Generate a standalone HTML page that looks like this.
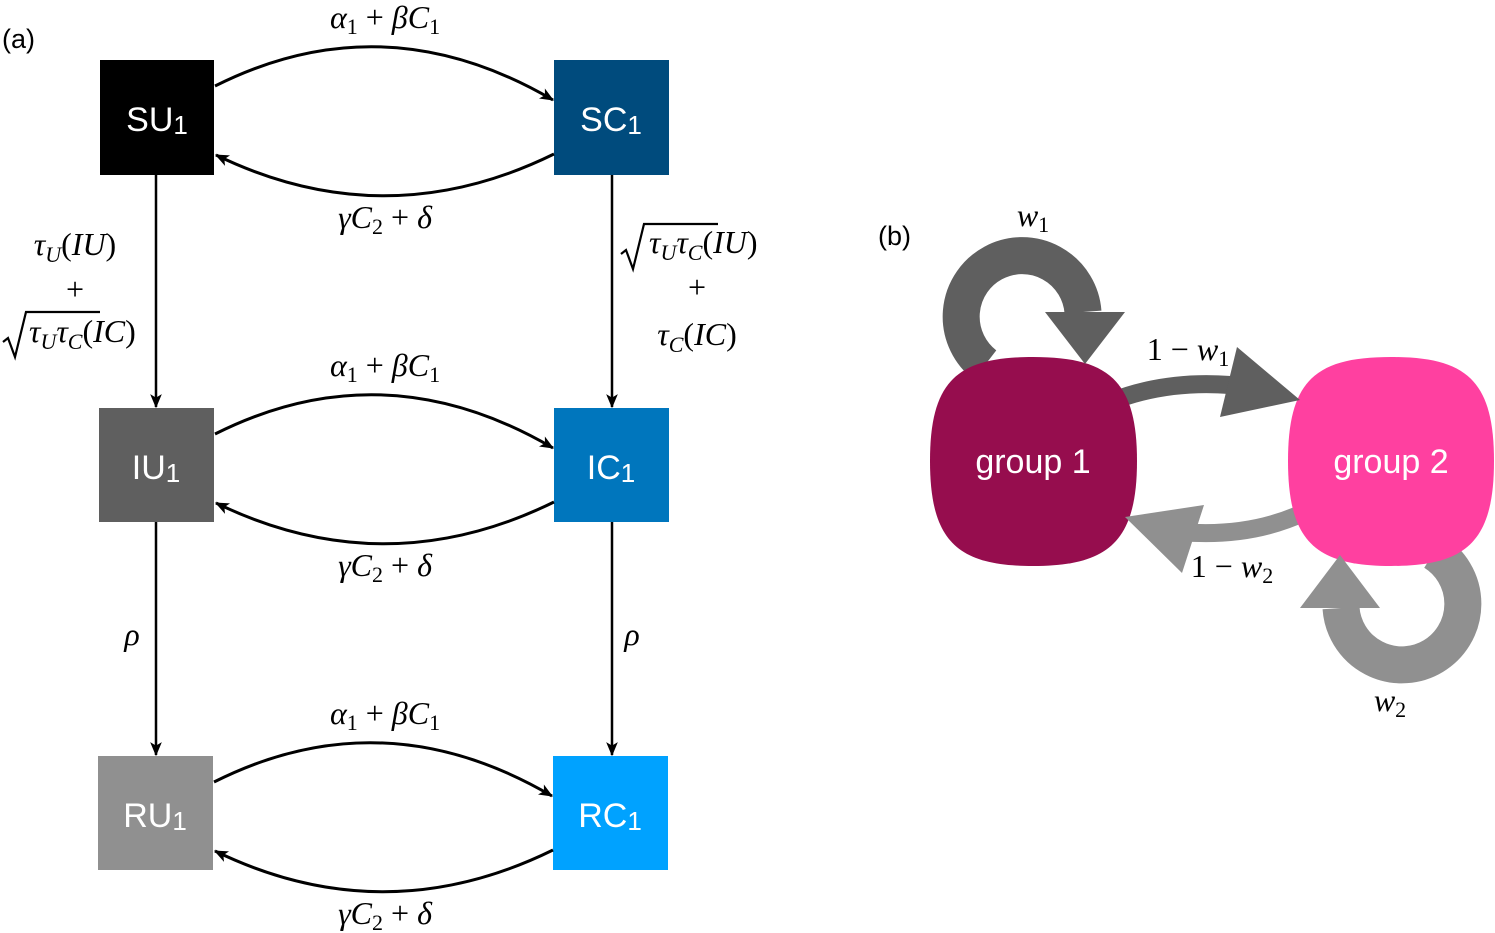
<!DOCTYPE html>
<html><head><meta charset="utf-8"><style>
html,body{margin:0;padding:0;background:#fff;}
svg{display:block;}
.m{font-family:"Liberation Serif",serif;font-size:32px;font-style:italic;fill:#000;}
.n{font-style:normal;}
.b{font-family:"Liberation Sans",sans-serif;font-size:34px;fill:#fff;}
.l{font-family:"Liberation Sans",sans-serif;font-size:27px;fill:#000;}
</style></head><body>
<svg width="1495" height="933" viewBox="0 0 1495 933" xmlns="http://www.w3.org/2000/svg">
<defs>
<marker id="a" viewBox="0 0 12 10" refX="11" refY="5" markerWidth="14" markerHeight="12" orient="auto-start-reverse" markerUnits="userSpaceOnUse">
<path d="M0,0 L12,5 L0,10 L3,5 Z" fill="#000"/></marker>
</defs>
<text x="2" y="48" class="l">(a)</text>
<text x="878" y="245" class="l">(b)</text>

<rect x="100" y="60" width="114" height="115" fill="#000"/>
<rect x="554" y="60" width="115" height="115" fill="#004b7d"/>
<rect x="99" y="408" width="115" height="114" fill="#5f5f5f"/>
<rect x="554" y="408" width="115" height="114" fill="#0076bd"/>
<rect x="98" y="756" width="115" height="114" fill="#909090"/>
<rect x="553" y="756" width="115" height="114" fill="#00a2ff"/>
<text x="157" y="131" class="b" text-anchor="middle">SU<tspan font-size="26" dy="3">1</tspan></text>
<text x="611" y="131" class="b" text-anchor="middle">SC<tspan font-size="26" dy="3">1</tspan></text>
<text x="156" y="479" class="b" text-anchor="middle">IU<tspan font-size="26" dy="3">1</tspan></text>
<text x="611" y="479" class="b" text-anchor="middle">IC<tspan font-size="26" dy="3">1</tspan></text>
<text x="155" y="827" class="b" text-anchor="middle">RU<tspan font-size="26" dy="3">1</tspan></text>
<text x="610" y="827" class="b" text-anchor="middle">RC<tspan font-size="26" dy="3">1</tspan></text>

<g fill="none" stroke="#000" stroke-width="3">
<path d="M215,86 Q384,1 553,100" marker-end="url(#a)"/>
<path d="M554,154 Q385,237 216,155" marker-end="url(#a)"/>
<path d="M215,434 Q384,349 553,448" marker-end="url(#a)"/>
<path d="M554,502 Q385,585 216,503" marker-end="url(#a)"/>
<path d="M214,782 Q383,697 552,796" marker-end="url(#a)"/>
<path d="M553,850 Q384,933 215,851" marker-end="url(#a)"/>
<path d="M156,175 L156,407" stroke-width="2.5" marker-end="url(#a)"/>
<path d="M612,175 L612,407" stroke-width="2.5" marker-end="url(#a)"/>
<path d="M156,522 L156,755" stroke-width="2.5" marker-end="url(#a)"/>
<path d="M612,522 L612,755" stroke-width="2.5" marker-end="url(#a)"/>
</g>

<g class="m" text-anchor="middle">
<text x="385" y="28">α<tspan class="n" font-size="22" dy="6">1</tspan><tspan class="n" dy="-6"> + </tspan>βC<tspan class="n" font-size="22" dy="6">1</tspan></text>
<text x="385" y="228">γC<tspan class="n" font-size="22" dy="6">2</tspan><tspan class="n" dy="-6"> + </tspan>δ</text>
<text x="385" y="376">α<tspan class="n" font-size="22" dy="6">1</tspan><tspan class="n" dy="-6"> + </tspan>βC<tspan class="n" font-size="22" dy="6">1</tspan></text>
<text x="385" y="576">γC<tspan class="n" font-size="22" dy="6">2</tspan><tspan class="n" dy="-6"> + </tspan>δ</text>
<text x="385" y="724">α<tspan class="n" font-size="22" dy="6">1</tspan><tspan class="n" dy="-6"> + </tspan>βC<tspan class="n" font-size="22" dy="6">1</tspan></text>
<text x="385" y="924">γC<tspan class="n" font-size="22" dy="6">2</tspan><tspan class="n" dy="-6"> + </tspan>δ</text>
<text x="132" y="645">ρ</text>
<text x="632" y="645">ρ</text>
<text x="75" y="255">τ<tspan font-size="22" dy="7">U</tspan><tspan class="n" dy="-7">(</tspan>IU<tspan class="n">)</tspan></text>
<text x="75" y="300" class="n">+</text>
<text x="697" y="298" class="n">+</text>
<text x="697" y="345">τ<tspan font-size="22" dy="7">C</tspan><tspan class="n" dy="-7">(</tspan>IC<tspan class="n">)</tspan></text>
</g>
<g class="m">
<text x="29" y="342">τ<tspan font-size="22" dy="7">U</tspan><tspan dy="-7">τ</tspan><tspan font-size="22" dy="7">C</tspan><tspan class="n" dy="-7">(</tspan>IC<tspan class="n">)</tspan></text>
<text x="649" y="253">τ<tspan font-size="22" dy="7">U</tspan><tspan dy="-7">τ</tspan><tspan font-size="22" dy="7">C</tspan><tspan class="n" dy="-7">(</tspan>IU<tspan class="n">)</tspan></text>
</g>
<g fill="none" stroke="#000" stroke-width="2.2">
<path d="M3,342 L8,338 L15,357 L26,312 L100,312"/>
<path d="M621,254 L626,250 L633,269 L644,224 L718,224"/>
</g>

<!-- loops / bands -->
<path d="M1083,312 A61,61 0 1 0 985,365" fill="none" stroke="#5f5f5f" stroke-width="37"/>
<path d="M1110,402 Q1165,380 1230,385" fill="none" stroke="#5f5f5f" stroke-width="18"/>
<path d="M1305,512 Q1250,538 1180,532" fill="none" stroke="#909090" stroke-width="18"/>
<path d="M1341,608 A61,61 0 1 0 1434,552" fill="none" stroke="#909090" stroke-width="37"/>

<path d="M930,461 C930,380 958,357 1033,357 C1108,357 1137,380 1137,461 C1137,542 1108,566 1033,566 C958,566 930,542 930,461 Z" fill="#960d4e"/>
<path d="M1288,461 C1288,380 1316,357 1391,357 C1466,357 1494,380 1494,461 C1494,542 1466,566 1391,566 C1316,566 1288,542 1288,461 Z" fill="#ff40a0"/>
<text x="1033" y="473" class="b" text-anchor="middle">group 1</text>
<text x="1391" y="473" class="b" text-anchor="middle">group 2</text>

<path d="M1045,312 L1125,312 L1085,364 Z" fill="#5f5f5f"/>
<path d="M1237,347 L1300,400 L1220,417 Z" fill="#5f5f5f"/>
<path d="M1204,505 L1125,517 L1182,573 Z" fill="#909090"/>
<path d="M1300,608 L1380,608 L1340,555 Z" fill="#909090"/>

<g class="m" text-anchor="middle">
<text x="1033" y="226">w<tspan class="n" font-size="22" dy="6">1</tspan></text>
<text x="1188" y="360"><tspan class="n">1 − </tspan>w<tspan class="n" font-size="22" dy="6">1</tspan></text>
<text x="1232" y="577"><tspan class="n">1 − </tspan>w<tspan class="n" font-size="22" dy="6">2</tspan></text>
<text x="1390" y="711">w<tspan class="n" font-size="22" dy="6">2</tspan></text>
</g>
</svg>
</body></html>
